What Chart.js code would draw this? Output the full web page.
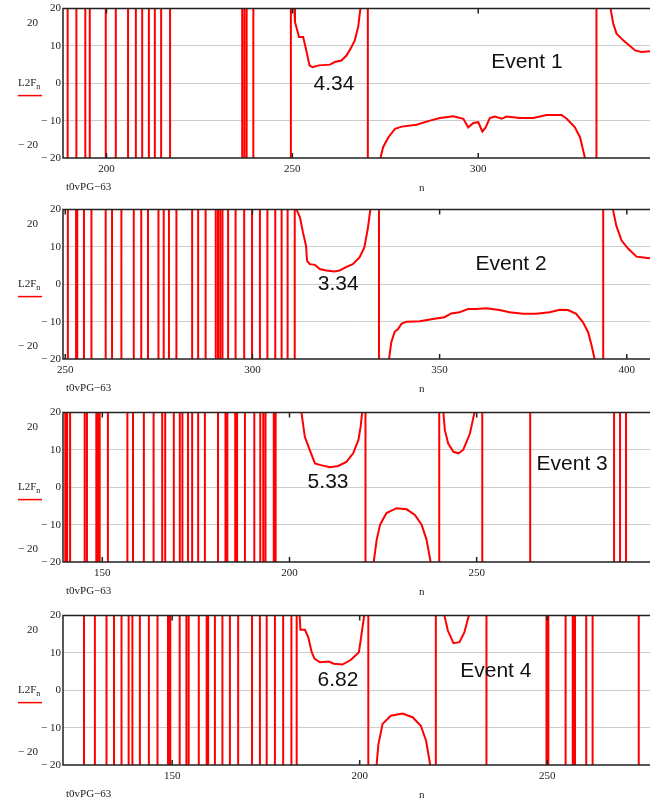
<!DOCTYPE html>
<html>
<head>
<meta charset="utf-8">
<script src="https://cdn.jsdelivr.net/npm/chart.js@4"></script>
<style>
body { margin: 0; background: #fff; width: 650px; height: 799px; overflow: hidden; position: relative; }
canvas { position: absolute; left: 0; }
</style>
</head>
<body>
<canvas id="p1" width="650" height="200" style="top:0px"></canvas>
<canvas id="p2" width="650" height="200" style="top:201px"></canvas>
<canvas id="p3" width="650" height="200" style="top:404px"></canvas>
<canvas id="p4" width="650" height="200" style="top:607px"></canvas>
<script>
// L2F_n goes far past the ±20 window at every jump, OFF stands for "off scale"
const OFF = 30;
const yTicks = [-20, -10, 0, 10, 20];

// Event 1
const xRange1 = [188.3, 346.2];
const xTicks1 = [200, 250, 300];
const jumps1 = [189.55, 191.9, 194.3, 195.5, 199.8, 202.5, 205.8, 207.9, 209.6, 211.4, 213.0, 214.7, 217.1,
  236.5, 237.1, 237.7, 239.5, 249.6, 270.3, 331.8];
const curves1 = [
  [[250.5, 20], [250.7, 16.4], [251.8, 12.4], [252.9, 12.4], [253.75, 8.8], [254.6, 4.8], [255.4, 4.3], [257.1, 4.8],
   [260.1, 5.0], [261.4, 5.7], [263.2, 6.1], [264.6, 7.5], [265.9, 9.7], [266.8, 11.5], [267.7, 15.1], [268.3, 20]],
  [[273.7, -20], [274.4, -17.1], [275.8, -14.5], [277.6, -12.2], [279.4, -11.6], [283.4, -11.1], [287.0, -10.0],
   [289.7, -9.3], [293.3, -8.8], [296.0, -9.5], [297.3, -11.8], [298.7, -10.6], [300, -10.4], [301.1, -12.9],
   [302, -11.8], [303.1, -9.3], [304.5, -8.9], [306.3, -9.5], [307.6, -8.9], [311.2, -9.3], [314.8, -9.3],
   [318.4, -8.5], [322.4, -8.5], [323.8, -9.5], [326.0, -11.8], [327.4, -14.5], [328.7, -20]],
  [[335.6, 20], [336.3, 16.0], [337.2, 13.3], [339.0, 11.5], [342.2, 8.8], [343.9, 8.4], [346.2, 8.6]]
];

// Event 2
const xRange2 = [249.4, 406.2];
const xTicks2 = [250, 300, 350, 400];
const jumps2 = [250.7, 252.9, 253.2, 255.0, 257.0, 260.8, 262.5, 265.0, 268.3, 270.3, 272.1, 274.9, 276.3, 277.7,
  279.7, 283.9, 285.5, 287.5, 290.2, 290.8, 291.4, 292.0, 293.5, 295.5, 297.8, 299.9, 302.0, 304.0, 306.1, 307.8,
  309.4, 311.3, 333.8, 393.7];
const curves2 = [
  [[311.8, 20], [312.7, 17.9], [313.5, 13.9], [314.3, 10.4], [314.6, 6.3], [315.3, 5.4], [316.7, 5.2], [318.0, 4.1],
   [319.7, 3.7], [321.9, 3.4], [323.3, 3.7], [325.0, 4.6], [326.8, 5.4], [328.6, 7.2], [329.9, 9.9], [330.8, 14.8],
   [331.5, 20]],
  [[336.5, -20], [337.1, -15.5], [338.0, -12.7], [338.9, -12.0], [339.8, -10.6], [341.1, -10.0], [344.7, -9.9],
   [348.2, -9.3], [351.3, -8.8], [353.1, -7.8], [355.3, -7.5], [357.6, -6.6], [359.8, -6.6], [362.5, -6.4],
   [366.0, -6.9], [368.7, -7.5], [372.3, -7.9], [375.8, -7.9], [379.4, -7.5], [382.1, -6.8], [384.3, -6.9],
   [386.5, -7.9], [388.3, -10.2], [389.7, -12.9], [390.6, -16.4], [391.4, -20]],
  [[396.3, 20], [397.2, 15.7], [398.6, 11.7], [400.4, 9.5], [402.6, 7.4], [404.4, 7.2], [406.2, 7.0]]
];

// Event 3
const xRange3 = [139.5, 296.3];
const xTicks3 = [150, 200, 250];
const jumps3 = [140.1, 140.6, 141.4, 145.3, 145.9, 148.4, 148.8, 149.3, 151.5, 156.7, 158.2, 161.1, 163.7, 166.0,
  166.8, 169.1, 170.7, 171.4, 172.9, 174.0, 175.6, 177.4, 180.9, 182.9, 183.4, 185.5, 186.0, 188.1, 190.6, 192.2,
  193.0, 193.6, 195.8, 196.3, 220.3, 240.0, 251.5, 264.3, 286.7, 288.3, 289.9];
const curves3 = [
  [[203.2, 20], [204.1, 13.5], [205.4, 10.0], [206.8, 6.4], [208.1, 6.0], [210.8, 5.4], [213.0, 5.7], [215.2, 6.8],
   [217.0, 9.1], [218.4, 12.6], [219.0, 16.2], [219.4, 20]],
  [[222.5, -20], [223.3, -14.0], [224.2, -10.0], [225.9, -6.9], [228.6, -5.6], [231.3, -5.9], [233.5, -7.4],
   [235.3, -10.0], [236.6, -14.0], [237.7, -20]],
  [[241.1, 20], [241.5, 15.3], [242.4, 11.7], [243.8, 9.5], [245.1, 9.1], [246.4, 10.0], [248.2, 14.4], [249.4, 20]]
];

// Event 4
const xRange4 = [120.9, 277.4];
const xTicks4 = [150, 200, 250];
const jumps4 = [126.5, 129.4, 132.5, 134.5, 136.5, 138.4, 139.4, 141.4, 143.8, 146.1, 148.9, 149.2, 149.5, 152.0,
  153.8, 154.4, 157.1, 159.2, 159.6, 161.4, 163.4, 165.4, 167.6, 171.3, 173.4, 175.2, 177.4, 179.6, 181.8, 183.2,
  202.3, 220.3, 233.8, 249.8, 250.3, 254.9, 256.8, 257.1, 257.4, 260.4, 262.1, 274.4];
const curves4 = [
  [[184.0, 20], [184.2, 16.2], [185.4, 16.2], [186.3, 14.2], [187.2, 10.2], [188.0, 8.4], [189.4, 7.5], [191.8, 7.7],
   [193.1, 7.1], [195.4, 6.9], [197.6, 8.1], [199.8, 10.2], [200.5, 15.1], [201.2, 20]],
  [[204.5, -20], [205.0, -14.4], [206.1, -9.0], [208.3, -6.8], [211.4, -6.2], [214.1, -7.2], [216.3, -9.5],
   [217.7, -13.5], [218.8, -20]],
  [[222.6, 20], [223.5, 16.0], [225.0, 12.6], [226.6, 12.9], [227.9, 15.5], [229.1, 20]]
];

const minLabels = ['4.34', '3.34', '5.33', '6.82'];
const eventLabels = ['Event 1', 'Event 2', 'Event 3', 'Event 4'];

// where the two captions sit, in data units of each panel
const notePos = [
  {min: [261.2, -0.3], ev: [313.1, 5.7]},
  {min: [322.9, -0.1], ev: [369.1, 5.3]},
  {min: [210.3, 1.4], ev: [275.5, 6.2]},
  {min: [194.2, 2.6], ev: [236.3, 5.0]}
];

function buildSeries(jumps, curves) {
  const pts = [];
  jumps.forEach(n => pts.push({x: n, y: -OFF}, {x: n, y: OFF}, {x: n, y: null}));
  curves.forEach(c => {
    c.forEach(([n, v]) => pts.push({x: n, y: v}));
    pts.push({x: c[c.length - 1][0], y: null});
  });
  return pts;
}

const serif = '"Liberation Serif", "Times New Roman", serif';
const minus = v => v < 0 ? '\u2212 ' + (-v) : String(v);

// Mathcad style frame, inner ticks and the texts round the plot
const mathcadFrame = {
  id: 'mathcadFrame',
  afterDatasetsDraw(chart, args, opts) {
    const {ctx, chartArea: a, scales: {x, y}} = chart;
    ctx.save();
    ctx.strokeStyle = '#222';
    ctx.lineWidth = 1.5;
    ctx.beginPath();
    ctx.moveTo(a.right + 2, a.top);
    ctx.lineTo(a.left, a.top);
    ctx.lineTo(a.left, a.bottom);
    ctx.lineTo(a.right + 2, a.bottom);
    ctx.stroke();
    ctx.beginPath();
    x.ticks.forEach(t => {
      const px = x.getPixelForValue(t.value);
      ctx.moveTo(px, a.top); ctx.lineTo(px, a.top + 5);
      ctx.moveTo(px, a.bottom); ctx.lineTo(px, a.bottom - 5);
    });
    ctx.stroke();

    ctx.fillStyle = '#111';
    ctx.font = '21px "Liberation Sans", Arial, sans-serif';
    ctx.textAlign = 'center';
    ctx.textBaseline = 'middle';
    ctx.fillText(opts.minText, x.getPixelForValue(opts.pos.min[0]), y.getPixelForValue(opts.pos.min[1]));
    ctx.fillText(opts.eventText, x.getPixelForValue(opts.pos.ev[0]), y.getPixelForValue(opts.pos.ev[1]));

    ctx.fillStyle = '#222';
    ctx.font = '11px ' + serif;
    ctx.textAlign = 'right';
    ctx.fillText('20', 38, a.top + 15);
    ctx.fillText(minus(-20), 38, a.top + 137);
    ctx.textAlign = 'left';
    ctx.fillText('t0vPG\u221263', 66, a.top + 179);
    ctx.fillText('n', 419, a.top + 180);

    // y caption L2F with subscript n, red legend stroke below
    const cy = a.top + 75;
    ctx.font = '11px ' + serif;
    ctx.fillText('L2F', 18, cy);
    const w = ctx.measureText('L2F').width;
    ctx.font = '8px ' + serif;
    ctx.fillText('n', 18 + w, cy + 3);
    ctx.strokeStyle = '#ff0000';
    ctx.lineWidth = 1.5;
    ctx.beginPath();
    ctx.moveTo(18, cy + 12); ctx.lineTo(42, cy + 12);
    ctx.stroke();
    ctx.restore();
  }
};

function makePanel(id, xRange, xTicks, jumps, curves, k) {
  new Chart(document.getElementById(id), {
    type: 'line',
    data: {
      datasets: [{
        data: buildSeries(jumps, curves),
        borderColor: '#ff0000',
        borderWidth: 2,
        pointRadius: 0,
        tension: 0,
        spanGaps: false
      }]
    },
    options: {
      responsive: false,
      animation: false,
      layout: {padding: {top: 8, left: 0, right: 0, bottom: 0}},
      scales: {
        x: {
          type: 'linear',
          min: xRange[0],
          max: xRange[1],
          afterBuildTicks: s => { s.ticks = xTicks.map(v => ({value: v})); },
          afterFit: s => { s.height = 42; },
          grid: {display: false, drawTicks: false},
          border: {display: false},
          ticks: {color: '#222', font: {family: serif, size: 11}, padding: 5, maxRotation: 0}
        },
        y: {
          min: -20,
          max: 20,
          afterBuildTicks: s => { s.ticks = yTicks.map(v => ({value: v})); },
          afterFit: s => { s.width = 63; },
          grid: {
            drawTicks: false,
            color: c => (c.tick && Math.abs(c.tick.value) === 20) ? 'rgba(0,0,0,0)' : '#cdcdcd'
          },
          border: {display: false},
          ticks: {color: '#222', font: {family: serif, size: 11}, padding: 2, callback: v => minus(v)}
        }
      },
      plugins: {
        legend: {display: false},
        tooltip: {enabled: false},
        mathcadFrame: {minText: minLabels[k], eventText: eventLabels[k], pos: notePos[k]}
      }
    },
    plugins: [mathcadFrame]
  });
}

makePanel('p1', xRange1, xTicks1, jumps1, curves1, 0);
makePanel('p2', xRange2, xTicks2, jumps2, curves2, 1);
makePanel('p3', xRange3, xTicks3, jumps3, curves3, 2);
makePanel('p4', xRange4, xTicks4, jumps4, curves4, 3);
</script>
</body>
</html>
